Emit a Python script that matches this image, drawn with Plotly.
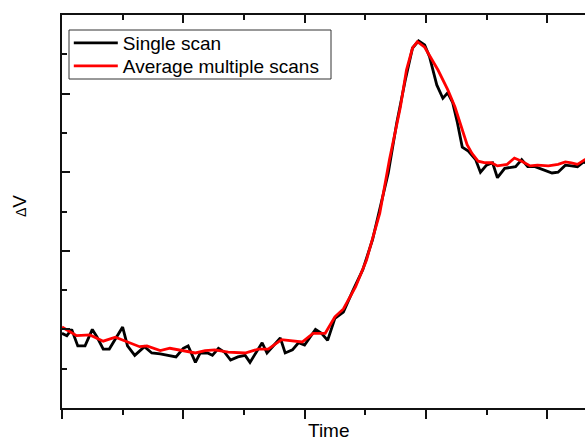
import plotly.graph_objects as go

# Single scan (time, value)
single_t = [0.00, 0.04, 0.08, 0.13, 0.19, 0.25, 0.29, 0.34, 0.39, 0.50, 0.54, 0.60, 0.68, 0.74,
            0.81, 0.87, 0.94, 1.00, 1.04, 1.10, 1.14, 1.20, 1.24, 1.29, 1.34, 1.39, 1.45, 1.51,
            1.55, 1.65, 1.69, 1.80, 1.84, 1.90, 1.95, 2.00, 2.09, 2.14, 2.19, 2.25, 2.32, 2.40,
            2.48, 2.56, 2.62, 2.69, 2.76, 2.83, 2.89, 2.94, 2.99, 3.03, 3.09, 3.14, 3.18, 3.22,
            3.26, 3.30, 3.35, 3.41, 3.45, 3.50, 3.55, 3.59, 3.65, 3.74, 3.79, 3.84, 3.90, 3.97,
            4.04, 4.09, 4.15, 4.20, 4.25, 4.30, 4.35]
single_v = [0.95, 0.92, 1.00, 0.79, 0.79, 1.00, 0.90, 0.75, 0.75, 1.03, 0.79, 0.67, 0.78, 0.70,
            0.69, 0.67, 0.65, 0.76, 0.79, 0.58, 0.70, 0.70, 0.67, 0.76, 0.71, 0.61, 0.65, 0.67,
            0.58, 0.83, 0.70, 0.89, 0.70, 0.74, 0.83, 0.80, 1.00, 0.95, 0.86, 1.14, 1.22, 1.50,
            1.76, 2.14, 2.52, 2.99, 3.63, 4.17, 4.58, 4.67, 4.62, 4.47, 4.11, 3.94, 4.01, 3.89,
            3.63, 3.32, 3.27, 3.16, 3.00, 3.09, 3.12, 2.93, 3.05, 3.07, 3.16, 3.07, 3.07, 3.03,
            2.99, 3.00, 3.09, 3.08, 3.07, 3.13, 3.10]

# Average of multiple scans (time, value)
avg_t = [0.00, 0.12, 0.23, 0.34, 0.44, 0.54, 0.64, 0.70, 0.81, 0.89, 0.97, 1.10, 1.18, 1.26,
         1.37, 1.51, 1.62, 1.70, 1.81, 1.90, 1.98, 2.07, 2.17, 2.25, 2.32, 2.42, 2.51, 2.62,
         2.70, 2.79, 2.84, 2.89, 2.93, 2.99, 3.06, 3.10, 3.18, 3.24, 3.30, 3.34, 3.38, 3.43,
         3.49, 3.54, 3.59, 3.67, 3.73, 3.79, 3.86, 3.92, 4.01, 4.09, 4.15, 4.20, 4.25, 4.31, 4.38]
avg_v = [1.03, 0.92, 0.93, 0.85, 0.90, 0.84, 0.78, 0.79, 0.73, 0.76, 0.74, 0.70, 0.73, 0.74,
         0.71, 0.70, 0.75, 0.75, 0.87, 0.85, 0.84, 0.95, 0.95, 1.16, 1.26, 1.54, 1.88, 2.48,
         3.16, 3.83, 4.30, 4.58, 4.66, 4.59, 4.40, 4.30, 4.05, 3.83, 3.54, 3.35, 3.24, 3.14,
         3.12, 3.12, 3.08, 3.10, 3.18, 3.14, 3.08, 3.09, 3.08, 3.10, 3.13, 3.12, 3.10, 3.16, 3.14]

X_RANGE = [0, 4.312]
Y_RANGE = [0, 5]

FONT = "Arial, Liberation Sans, sans-serif"

fig = go.Figure()
fig.add_trace(go.Scatter(x=single_t, y=single_v, mode="lines", name="Single scan",
                         legend="legend",
                         line=dict(color="#000000", width=2.8)))
fig.add_trace(go.Scatter(x=avg_t, y=avg_v, mode="lines", name="Average multiple scans",
                         legend="legend2",
                         line=dict(color="#ff0000", width=2.8)))
fig.add_trace(go.Scatter(x=[], y=[], xaxis="x2", showlegend=False, hoverinfo="skip"))

axis_common = dict(showgrid=False, zeroline=False, showticklabels=False, showline=True,
                   linecolor="#111111", linewidth=2, tickcolor="#111111", tickwidth=1.5)

legend_common = dict(xanchor="left", yanchor="middle", borderwidth=0,
                     bgcolor="rgba(0,0,0,0)",
                     font=dict(family=FONT, size=19, color="#000000"),
                     itemwidth=44)

fig.update_layout(
    width=585, height=443,
    margin=dict(l=62, r=0, t=15, b=35),
    paper_bgcolor="white", plot_bgcolor="white",
    font=dict(family=FONT, size=19, color="#000000"),
    xaxis=dict(range=X_RANGE, domain=[0, 1], ticks="outside", ticklen=9, dtick=1, tick0=0,
               minor=dict(dtick=0.5, tick0=0, ticks="outside", ticklen=5, tickwidth=1.5,
                          tickcolor="#111111"),
               **axis_common),
    xaxis2=dict(range=X_RANGE, overlaying="x", side="top", anchor="y", ticks="inside",
                ticklen=8, dtick=1, tick0=0,
                minor=dict(dtick=0.5, tick0=0, ticks="inside", ticklen=5, tickwidth=1.5,
                           tickcolor="#111111"),
                **axis_common),
    yaxis=dict(range=Y_RANGE, ticks="inside", ticklen=8, dtick=1, tick0=0,
               minor=dict(dtick=0.5, tick0=0, ticks="inside", ticklen=5, tickwidth=1.5,
                          tickcolor="#111111"),
               **axis_common),
    legend=dict(x=0.013, y=0.9288, **legend_common),
    legend2=dict(x=0.013, y=0.8702, **legend_common),
    showlegend=True,
    shapes=[
        dict(type="rect", xref="paper", yref="paper",
             x0=7 / 523, x1=269 / 523, y0=(408 - 79) / 393, y1=(408 - 30) / 393,
             line=dict(color="#333333", width=1), fillcolor="white", layer="above"),
    ],
    annotations=[
        dict(text="Time", x=0.5105, y=(408 - 442) / 393, xref="paper", yref="paper",
             xanchor="center", yanchor="bottom", showarrow=False, borderpad=0,
             font=dict(family=FONT, size=19)),
        dict(text="<span style='font-size:14px'>Δ</span>V", x=-0.0803, y=0.514,
             xref="paper", yref="paper", xanchor="center", yanchor="middle",
             textangle=-90, showarrow=False, font=dict(family=FONT, size=19)),
    ],
)

fig.write_html("out.html", config={"displayModeBar": False},
               post_script="document.body.style.margin='0px';")
